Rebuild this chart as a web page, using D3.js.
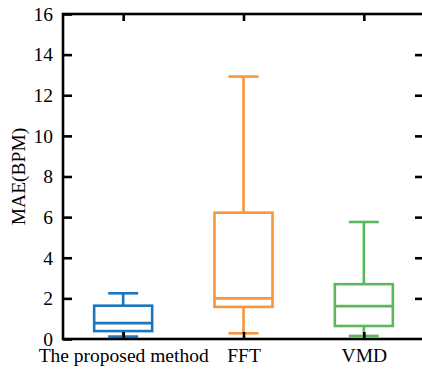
<!DOCTYPE html>
<html>
<head>
<meta charset="utf-8">
<script src="https://cdn.jsdelivr.net/npm/d3@7"></script>
<style>
  html, body { margin: 0; padding: 0; background: #fff; }
  svg { display: block; }
</style>
</head>
<body>
<svg id="chart" width="422" height="371"></svg>
<script>
// Box-plot statistics for each method (MAE in BPM)
const categories = ["The proposed method", "FFT", "VMD"];
const whiskerLow  = [0.12, 0.28, 0.15];
const quartile1   = [0.39, 1.58, 0.64];
const medians     = [0.78, 2.00, 1.62];
const quartile3   = [1.64, 6.22, 2.70];
const whiskerHigh = [2.25, 12.92, 5.76];
const colors      = ["#1a77bf", "#f7963d", "#5cb85c"];
const yTicks      = [0, 2, 4, 6, 8, 10, 12, 14, 16];

const serif = "'Liberation Serif', 'Times New Roman', serif";

const svg = d3.select("#chart");
const mLeft = 63, mRight = 424, mTop = 14, mBottom = 339;

const x = d3.scaleLinear().domain([0.5, categories.length + 0.5]).range([mLeft, mRight]);
const y = d3.scaleLinear().domain([0, 16]).range([mBottom, mTop]);

const boxW = 58, capW = 30, lw = 2.6;

const boxes = categories.map((c, i) => ({
  name: c, pos: i + 1, lo: whiskerLow[i], q1: quartile1[i], med: medians[i],
  q3: quartile3[i], hi: whiskerHigh[i], color: colors[i]
}));

// boxes
const g = svg.append("g");
boxes.forEach(b => {
  const cx = x(b.pos);
  const grp = g.append("g").attr("stroke", b.color).attr("stroke-width", lw).attr("fill", "none");
  // whiskers
  grp.append("line").attr("x1", cx).attr("x2", cx).attr("y1", y(b.q3)).attr("y2", y(b.hi));
  grp.append("line").attr("x1", cx).attr("x2", cx).attr("y1", y(b.q1)).attr("y2", y(b.lo));
  // caps
  grp.append("line").attr("x1", cx - capW / 2).attr("x2", cx + capW / 2).attr("y1", y(b.hi)).attr("y2", y(b.hi));
  grp.append("line").attr("x1", cx - capW / 2).attr("x2", cx + capW / 2).attr("y1", y(b.lo)).attr("y2", y(b.lo));
  // box
  grp.append("rect").attr("x", cx - boxW / 2).attr("y", y(b.q3))
    .attr("width", boxW).attr("height", y(b.q1) - y(b.q3));
  // median
  grp.append("line").attr("x1", cx - boxW / 2).attr("x2", cx + boxW / 2).attr("y1", y(b.med)).attr("y2", y(b.med));
});

// axes with inward ticks
const tickLen = 9, catTick = 7;
const styleAxis = a => {
  a.attr("font-family", null).attr("font-size", null);
  a.selectAll("path, line").attr("stroke", "#000").attr("stroke-width", 2.6);
  a.selectAll("text").style("font-family", serif).style("font-size", "19.5px").attr("fill", "#000");
  a.select(".domain").remove();
};

svg.append("g").attr("transform", `translate(${mLeft},0)`)
  .call(d3.axisLeft(y).tickValues(yTicks).tickSizeInner(-tickLen).tickSizeOuter(0).tickPadding(10))
  .call(styleAxis);

svg.append("g").attr("transform", `translate(${mRight},0)`)
  .call(d3.axisRight(y).tickValues(yTicks.slice(1, -1)).tickSizeInner(-tickLen).tickSizeOuter(0).tickFormat(""))
  .call(styleAxis);

svg.append("g").attr("transform", `translate(0,${mBottom})`)
  .call(d3.axisBottom(x).tickValues(boxes.map(b => b.pos)).tickSizeInner(-catTick).tickSizeOuter(0)
    .tickPadding(9).tickFormat((d, i) => categories[i]))
  .call(styleAxis);

svg.append("g").attr("transform", `translate(0,${mTop})`)
  .call(d3.axisTop(x).tickValues(boxes.map(b => b.pos)).tickSizeInner(-catTick).tickSizeOuter(0).tickFormat(""))
  .call(styleAxis);

// frame
svg.append("rect").attr("x", mLeft).attr("y", mTop).attr("width", mRight - mLeft).attr("height", mBottom - mTop)
  .attr("fill", "none").attr("stroke", "#000").attr("stroke-width", 2.6);

// y-axis title
svg.append("text").attr("transform", `translate(25,${(mTop + mBottom) / 2}) rotate(-90)`)
  .attr("text-anchor", "middle").style("font-family", serif).style("font-size", "19.5px")
  .attr("fill", "#000").text("MAE(BPM)");
</script>
</body>
</html>
